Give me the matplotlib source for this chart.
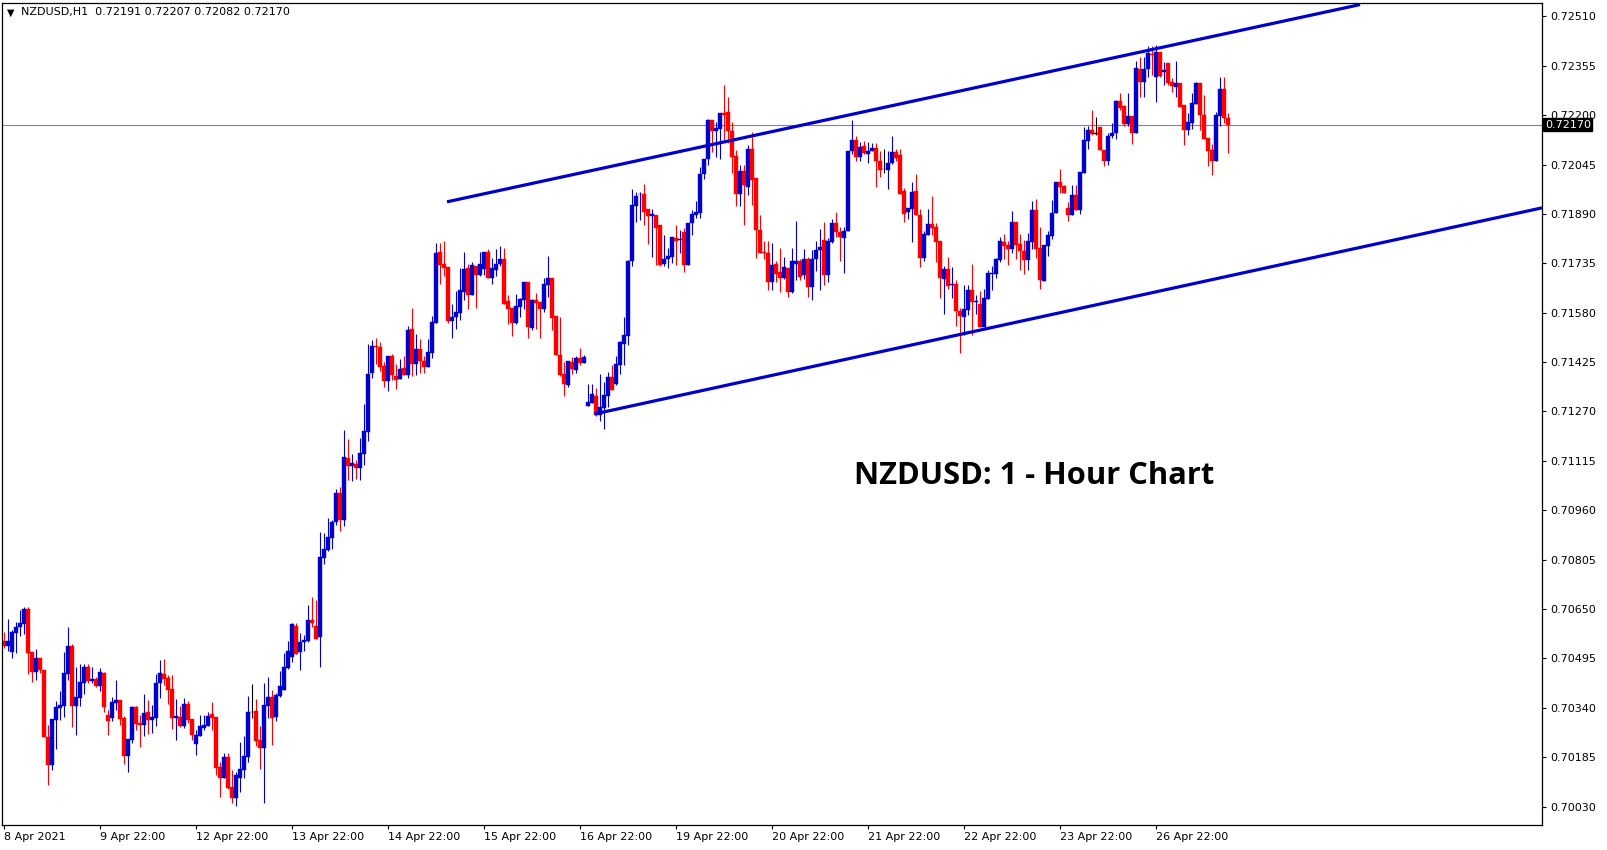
import numpy as np
import matplotlib.pyplot as plt

# NZDUSD H1 candles (open, high, low, close)
opens = [
    0.70550, 0.70535, 0.70516, 0.70576, 0.70592, 0.70604, 0.70650, 0.70515, 0.70451, 0.70497,
    0.70459, 0.70249, 0.70159, 0.70300, 0.70338, 0.70347, 0.70447, 0.70534, 0.70347, 0.70372,
    0.70419, 0.70468, 0.70424, 0.70431, 0.70407, 0.70450, 0.70318, 0.70309, 0.70356, 0.70365,
    0.70309, 0.70190, 0.70240, 0.70343, 0.70293, 0.70286, 0.70327, 0.70303, 0.70309, 0.70418,
    0.70446, 0.70434, 0.70399, 0.70309, 0.70311, 0.70284, 0.70352, 0.70305, 0.70225, 0.70250,
    0.70278, 0.70284, 0.70321, 0.70312, 0.70154, 0.70121, 0.70186, 0.70092, 0.70058, 0.70121,
    0.70146, 0.70187, 0.70326, 0.70330, 0.70239, 0.70215, 0.70347, 0.70374, 0.70312, 0.70378,
    0.70397, 0.70466, 0.70498, 0.70597, 0.70514, 0.70545, 0.70551, 0.70614, 0.70598, 0.70563,
    0.70811, 0.70835, 0.70874, 0.70924, 0.71015, 0.70929, 0.71125, 0.71100, 0.71106, 0.71094,
    0.71138, 0.71207, 0.71392, 0.71476, 0.71473, 0.71414, 0.71367, 0.71445, 0.71382, 0.71373,
    0.71407, 0.71385, 0.71530, 0.71420, 0.71466, 0.71429, 0.71411, 0.71455, 0.71549, 0.71771,
    0.71734, 0.71724, 0.71555, 0.71568, 0.71580, 0.71646, 0.71721, 0.71636, 0.71728, 0.71698,
    0.71718, 0.71772, 0.71690, 0.71715, 0.71734, 0.71747, 0.71618, 0.71596, 0.71549, 0.71599,
    0.71621, 0.71677, 0.71531, 0.71621, 0.71614, 0.71590, 0.71668, 0.71688, 0.71571, 0.71448,
    0.71388, 0.71354, 0.71425, 0.71401, 0.71439, 0.71422, 0.71288, 0.71295, 0.71319, 0.71258,
    0.71281, 0.71320, 0.71379, 0.71356, 0.71417, 0.71481, 0.71508, 0.71741, 0.71916, 0.71951,
    0.71953, 0.71904, 0.71882, 0.71887, 0.71854, 0.71734, 0.71747, 0.71756, 0.71815, 0.71809,
    0.71834, 0.71731, 0.71860, 0.71888, 0.71894, 0.72015, 0.72061, 0.72186, 0.72149, 0.72155,
    0.72207, 0.72210, 0.72149, 0.72073, 0.71954, 0.72025, 0.71973, 0.72095, 0.72004, 0.71841,
    0.71771, 0.71768, 0.71675, 0.71733, 0.71708, 0.71690, 0.71721, 0.71644, 0.71734, 0.71743,
    0.71697, 0.71749, 0.71662, 0.71747, 0.71776, 0.71807, 0.71697, 0.71802, 0.71862, 0.71833,
    0.71813, 0.71837, 0.72086, 0.72123, 0.72069, 0.72104, 0.72079, 0.72089, 0.72098, 0.72057,
    0.72030, 0.72029, 0.72050, 0.72085, 0.72076, 0.71962, 0.71897, 0.71907, 0.71962, 0.71888,
    0.71753, 0.71825, 0.71857, 0.71849, 0.71806, 0.71687, 0.71718, 0.71666, 0.71670, 0.71586,
    0.71567, 0.71587, 0.71652, 0.71612, 0.71608, 0.71536, 0.71623, 0.71702, 0.71702, 0.71744,
    0.71803, 0.71794, 0.71781, 0.71865, 0.71797, 0.71775, 0.71744, 0.71803, 0.71903, 0.71784,
    0.71681, 0.71790, 0.71822, 0.71892, 0.71990, 0.71978, 0.71909, 0.71887, 0.71950, 0.71903,
    0.72018, 0.72120, 0.72153, 0.72142, 0.72162, 0.72090, 0.72056, 0.72134, 0.72144, 0.72245,
    0.72229, 0.72173, 0.72197, 0.72144, 0.72345, 0.72305, 0.72345, 0.72392, 0.72321, 0.72398,
    0.72336, 0.72364, 0.72304, 0.72289, 0.72301, 0.72231, 0.72154, 0.72175, 0.72235, 0.72302,
    0.72199, 0.72129, 0.72090, 0.72056, 0.72198, 0.72282, 0.72191,
]
highs = [
    0.70578, 0.70619, 0.70583, 0.70610, 0.70647, 0.70657, 0.70657, 0.70515, 0.70525, 0.70497,
    0.70459, 0.70286, 0.70305, 0.70360, 0.70393, 0.70516, 0.70595, 0.70541, 0.70468, 0.70476,
    0.70476, 0.70478, 0.70468, 0.70436, 0.70465, 0.70453, 0.70333, 0.70375, 0.70428, 0.70365,
    0.70313, 0.70242, 0.70347, 0.70347, 0.70316, 0.70384, 0.70365, 0.70349, 0.70447, 0.70490,
    0.70493, 0.70443, 0.70443, 0.70369, 0.70347, 0.70372, 0.70362, 0.70305, 0.70269, 0.70318,
    0.70318, 0.70328, 0.70359, 0.70312, 0.70169, 0.70198, 0.70198, 0.70145, 0.70137, 0.70234,
    0.70250, 0.70378, 0.70416, 0.70368, 0.70284, 0.70418, 0.70437, 0.70396, 0.70387, 0.70456,
    0.70513, 0.70548, 0.70605, 0.70605, 0.70576, 0.70567, 0.70664, 0.70689, 0.70679, 0.70893,
    0.70887, 0.70936, 0.70930, 0.71028, 0.71034, 0.71213, 0.71182, 0.71138, 0.71119, 0.71188,
    0.71294, 0.71483, 0.71495, 0.71502, 0.71489, 0.71426, 0.71445, 0.71451, 0.71420, 0.71436,
    0.71445, 0.71539, 0.71594, 0.71513, 0.71497, 0.71445, 0.71497, 0.71569, 0.71800, 0.71800,
    0.71806, 0.71724, 0.71608, 0.71647, 0.71721, 0.71771, 0.71734, 0.71740, 0.71728, 0.71772,
    0.71772, 0.71781, 0.71753, 0.71781, 0.71790, 0.71784, 0.71634, 0.71596, 0.71640, 0.71627,
    0.71677, 0.71677, 0.71624, 0.71643, 0.71614, 0.71690, 0.71759, 0.71688, 0.71571, 0.71565,
    0.71425, 0.71429, 0.71441, 0.71445, 0.71469, 0.71447, 0.71357, 0.71357, 0.71344, 0.71388,
    0.71364, 0.71395, 0.71416, 0.71445, 0.71491, 0.71567, 0.71746, 0.71969, 0.71959, 0.71959,
    0.71984, 0.71904, 0.71904, 0.71887, 0.71854, 0.71825, 0.71783, 0.71818, 0.71856, 0.71840,
    0.71846, 0.71863, 0.71903, 0.71931, 0.72038, 0.72063, 0.72189, 0.72186, 0.72177, 0.72207,
    0.72296, 0.72258, 0.72179, 0.72092, 0.72044, 0.72044, 0.72105, 0.72146, 0.72004, 0.71888,
    0.71804, 0.71804, 0.71798, 0.71742, 0.71783, 0.71755, 0.71721, 0.71783, 0.71869, 0.71749,
    0.71780, 0.71755, 0.71777, 0.71805, 0.71842, 0.71866, 0.71814, 0.71874, 0.71896, 0.71849,
    0.71849, 0.72088, 0.72185, 0.72136, 0.72117, 0.72120, 0.72117, 0.72114, 0.72114, 0.72086,
    0.72095, 0.72089, 0.72136, 0.72093, 0.72095, 0.71972, 0.71909, 0.71990, 0.72015, 0.71907,
    0.71835, 0.71907, 0.71947, 0.71860, 0.71806, 0.71728, 0.71756, 0.71722, 0.71683, 0.71596,
    0.71667, 0.71667, 0.71734, 0.71634, 0.71649, 0.71655, 0.71715, 0.71728, 0.71753, 0.71819,
    0.71828, 0.71806, 0.71899, 0.71865, 0.71828, 0.71809, 0.71831, 0.71932, 0.71937, 0.71850,
    0.71794, 0.71835, 0.71934, 0.71990, 0.72030, 0.71980, 0.71927, 0.71981, 0.71981, 0.72022,
    0.72164, 0.72167, 0.72216, 0.72193, 0.72162, 0.72090, 0.72145, 0.72175, 0.72249, 0.72270,
    0.72231, 0.72269, 0.72197, 0.72370, 0.72384, 0.72383, 0.72417, 0.72417, 0.72421, 0.72398,
    0.72366, 0.72364, 0.72318, 0.72370, 0.72301, 0.72231, 0.72208, 0.72269, 0.72305, 0.72302,
    0.72263, 0.72129, 0.72108, 0.72211, 0.72321, 0.72321, 0.72207,
]
lows = [
    0.70526, 0.70519, 0.70495, 0.70513, 0.70564, 0.70570, 0.70447, 0.70422, 0.70428, 0.70448,
    0.70247, 0.70096, 0.70145, 0.70209, 0.70303, 0.70310, 0.70428, 0.70281, 0.70256, 0.70344,
    0.70382, 0.70419, 0.70419, 0.70404, 0.70394, 0.70326, 0.70256, 0.70297, 0.70334, 0.70287,
    0.70165, 0.70137, 0.70228, 0.70270, 0.70218, 0.70250, 0.70259, 0.70262, 0.70283, 0.70372,
    0.70410, 0.70353, 0.70272, 0.70240, 0.70281, 0.70278, 0.70291, 0.70240, 0.70193, 0.70250,
    0.70271, 0.70284, 0.70269, 0.70129, 0.70061, 0.70121, 0.70084, 0.70040, 0.70033, 0.70077,
    0.70118, 0.70169, 0.70309, 0.70221, 0.70149, 0.70040, 0.70307, 0.70224, 0.70297, 0.70374,
    0.70396, 0.70463, 0.70485, 0.70510, 0.70457, 0.70519, 0.70545, 0.70592, 0.70557, 0.70469,
    0.70792, 0.70832, 0.70838, 0.70915, 0.70896, 0.70912, 0.71056, 0.71053, 0.71059, 0.71056,
    0.71103, 0.71178, 0.71376, 0.71420, 0.71398, 0.71348, 0.71335, 0.71370, 0.71342, 0.71373,
    0.71385, 0.71376, 0.71382, 0.71383, 0.71392, 0.71391, 0.71408, 0.71439, 0.71549, 0.71671,
    0.71696, 0.71549, 0.71499, 0.71530, 0.71558, 0.71620, 0.71590, 0.71636, 0.71595, 0.71696,
    0.71699, 0.71690, 0.71671, 0.71696, 0.71728, 0.71607, 0.71543, 0.71508, 0.71546, 0.71568,
    0.71593, 0.71502, 0.71527, 0.71530, 0.71502, 0.71583, 0.71630, 0.71527, 0.71448, 0.71382,
    0.71317, 0.71348, 0.71386, 0.71392, 0.71416, 0.71422, 0.71288, 0.71295, 0.71256, 0.71241,
    0.71216, 0.71285, 0.71338, 0.71354, 0.71389, 0.71416, 0.71479, 0.71728, 0.71866, 0.71872,
    0.71854, 0.71797, 0.71756, 0.71729, 0.71728, 0.71728, 0.71720, 0.71737, 0.71731, 0.71768,
    0.71707, 0.71731, 0.71825, 0.71876, 0.71876, 0.72000, 0.72045, 0.72083, 0.72070, 0.72061,
    0.72122, 0.72113, 0.72017, 0.71916, 0.71916, 0.71854, 0.71948, 0.71918, 0.71751, 0.71767,
    0.71749, 0.71650, 0.71650, 0.71675, 0.71644, 0.71687, 0.71628, 0.71641, 0.71683, 0.71683,
    0.71685, 0.71629, 0.71621, 0.71712, 0.71652, 0.71667, 0.71676, 0.71800, 0.71818, 0.71743,
    0.71706, 0.71835, 0.72077, 0.72057, 0.72057, 0.72077, 0.72051, 0.72086, 0.71973, 0.72005,
    0.72017, 0.71968, 0.72048, 0.72057, 0.71951, 0.71866, 0.71875, 0.71803, 0.71888, 0.71722,
    0.71743, 0.71825, 0.71825, 0.71740, 0.71626, 0.71575, 0.71653, 0.71627, 0.71539, 0.71455,
    0.71510, 0.71573, 0.71510, 0.71575, 0.71534, 0.71536, 0.71623, 0.71652, 0.71690, 0.71740,
    0.71749, 0.71731, 0.71766, 0.71747, 0.71715, 0.71700, 0.71715, 0.71780, 0.71753, 0.71653,
    0.71681, 0.71759, 0.71810, 0.71892, 0.71957, 0.71955, 0.71869, 0.71887, 0.71903, 0.71890,
    0.72018, 0.72094, 0.72137, 0.72137, 0.72090, 0.72040, 0.72045, 0.72127, 0.72125, 0.72216,
    0.72167, 0.72167, 0.72109, 0.72144, 0.72258, 0.72258, 0.72320, 0.72327, 0.72242, 0.72321,
    0.72294, 0.72295, 0.72272, 0.72258, 0.72225, 0.72106, 0.72137, 0.72157, 0.72235, 0.72153,
    0.72126, 0.72039, 0.72013, 0.72056, 0.72167, 0.72174, 0.72082,
]
closes = [
    0.70534, 0.70550, 0.70578, 0.70594, 0.70606, 0.70650, 0.70513, 0.70451, 0.70497, 0.70457,
    0.70247, 0.70159, 0.70305, 0.70343, 0.70349, 0.70450, 0.70534, 0.70347, 0.70374, 0.70421,
    0.70468, 0.70425, 0.70431, 0.70407, 0.70453, 0.70343, 0.70297, 0.70359, 0.70365, 0.70306,
    0.70190, 0.70242, 0.70343, 0.70290, 0.70286, 0.70324, 0.70302, 0.70311, 0.70418, 0.70450,
    0.70431, 0.70397, 0.70309, 0.70313, 0.70284, 0.70352, 0.70303, 0.70253, 0.70253, 0.70283,
    0.70287, 0.70315, 0.70309, 0.70152, 0.70121, 0.70186, 0.70087, 0.70058, 0.70129, 0.70148,
    0.70190, 0.70328, 0.70326, 0.70237, 0.70215, 0.70349, 0.70374, 0.70309, 0.70380, 0.70409,
    0.70468, 0.70518, 0.70602, 0.70510, 0.70547, 0.70554, 0.70614, 0.70605, 0.70557, 0.70813,
    0.70838, 0.70876, 0.70924, 0.71015, 0.70929, 0.71128, 0.71100, 0.71109, 0.71094, 0.71141,
    0.71209, 0.71389, 0.71476, 0.71471, 0.71411, 0.71367, 0.71445, 0.71385, 0.71370, 0.71404,
    0.71385, 0.71527, 0.71420, 0.71466, 0.71428, 0.71408, 0.71457, 0.71551, 0.71767, 0.71731,
    0.71721, 0.71555, 0.71567, 0.71582, 0.71651, 0.71718, 0.71636, 0.71731, 0.71699, 0.71734,
    0.71772, 0.71690, 0.71721, 0.71734, 0.71747, 0.71607, 0.71593, 0.71549, 0.71602, 0.71624,
    0.71677, 0.71536, 0.71621, 0.71610, 0.71590, 0.71671, 0.71690, 0.71563, 0.71448, 0.71385,
    0.71357, 0.71429, 0.71404, 0.71439, 0.71422, 0.71441, 0.71300, 0.71325, 0.71258, 0.71284,
    0.71323, 0.71379, 0.71338, 0.71419, 0.71487, 0.71510, 0.71743, 0.71918, 0.71947, 0.71954,
    0.71897, 0.71882, 0.71890, 0.71847, 0.71731, 0.71749, 0.71758, 0.71818, 0.71806, 0.71812,
    0.71731, 0.71863, 0.71890, 0.71896, 0.72016, 0.72063, 0.72186, 0.72149, 0.72161, 0.72207,
    0.72202, 0.72149, 0.72070, 0.71951, 0.72025, 0.71981, 0.72095, 0.71998, 0.71841, 0.71767,
    0.71766, 0.71675, 0.71730, 0.71700, 0.71690, 0.71724, 0.71644, 0.71741, 0.71743, 0.71693,
    0.71749, 0.71662, 0.71749, 0.71776, 0.71785, 0.71697, 0.71805, 0.71862, 0.71833, 0.71816,
    0.71835, 0.72088, 0.72123, 0.72069, 0.72100, 0.72082, 0.72088, 0.72098, 0.72057, 0.72029,
    0.72030, 0.72050, 0.72085, 0.72067, 0.71954, 0.71890, 0.71909, 0.71959, 0.71888, 0.71753,
    0.71828, 0.71857, 0.71847, 0.71803, 0.71690, 0.71718, 0.71664, 0.71669, 0.71586, 0.71571,
    0.71592, 0.71652, 0.71615, 0.71617, 0.71534, 0.71626, 0.71705, 0.71705, 0.71747, 0.71806,
    0.71790, 0.71781, 0.71865, 0.71794, 0.71775, 0.71744, 0.71806, 0.71903, 0.71781, 0.71684,
    0.71792, 0.71824, 0.71892, 0.71990, 0.71973, 0.71957, 0.71887, 0.71950, 0.71903, 0.72022,
    0.72122, 0.72153, 0.72141, 0.72142, 0.72090, 0.72056, 0.72134, 0.72144, 0.72245, 0.72222,
    0.72173, 0.72196, 0.72144, 0.72348, 0.72305, 0.72345, 0.72395, 0.72389, 0.72398, 0.72323,
    0.72341, 0.72300, 0.72290, 0.72301, 0.72227, 0.72154, 0.72177, 0.72238, 0.72302, 0.72199,
    0.72126, 0.72086, 0.72056, 0.72200, 0.72281, 0.72190, 0.72170,
]

# x-axis labels every 24 bars
date_labels = ["8 Apr 2021", "9 Apr 22:00", "12 Apr 22:00", "13 Apr 22:00", "14 Apr 22:00",
               "15 Apr 22:00", "16 Apr 22:00", "19 Apr 22:00", "20 Apr 22:00", "21 Apr 22:00",
               "22 Apr 22:00", "23 Apr 22:00", "26 Apr 22:00"]
price_ticks = [0.72510, 0.72355, 0.72200, 0.72045, 0.71890, 0.71735, 0.71580, 0.71425,
               0.71270, 0.71115, 0.70960, 0.70805, 0.70650, 0.70495, 0.70340, 0.70185, 0.70030]

# channel lines drawn on the chart: (bar, price) end points
upper_line = ([110.75, 339.0], [0.71928, 0.72547])
lower_line = ([147.6, 384.5], [0.71262, 0.71909])
last_price = 0.72170

UP = "#0000CC"
DOWN = "#FF0000"

o = np.array(opens)
h = np.array(highs)
l = np.array(lows)
c = np.array(closes)
x = np.arange(len(o))

colors = np.where(c > o, UP, np.where(c < o, DOWN, "black"))

fig = plt.figure(figsize=(16.07, 8.5), dpi=100)
ax = fig.add_axes([2 / 1607, 25 / 850, 1540 / 1607, 822 / 850])

ax.vlines(x, l, h, colors=colors, linewidth=0.8)
body_bottom = np.minimum(o, c)
body_height = np.maximum(np.abs(c - o), 0.00002)
ax.bar(x, body_height, bottom=body_bottom, width=0.78, color=colors,
       edgecolor=colors, linewidth=0.3)

ax.axhline(last_price, color="#778899", linewidth=0.8, zorder=0)

ax.plot(*upper_line, color=UP, linewidth=2.3, solid_capstyle="butt")
ax.plot(*lower_line, color=UP, linewidth=2.3, solid_capstyle="butt")

ax.set_xlim(-0.5, 384.5)
ax.set_ylim(0.69972, 0.72552)

ax.yaxis.tick_right()
ax.set_yticks(price_ticks)
ax.set_yticklabels([f"{p:.5f}" for p in price_ticks])
ax.tick_params(axis="y", direction="out", length=3, width=0.8, pad=3, labelsize=8)

ax.set_xticks(np.arange(len(date_labels)) * 24)
ax.set_xticklabels(date_labels, ha="left")
ax.tick_params(axis="x", direction="out", length=3, width=0.8, pad=2, labelsize=8)

for s in ax.spines.values():
    s.set_color("black")
    s.set_linewidth(0.9)

# current price tag on the right axis
ax.text(1.0018, (last_price - 0.69972) / (0.72552 - 0.69972), f"{last_price:.5f}",
        transform=ax.transAxes, ha="left", va="center", fontsize=8, color="white",
        bbox=dict(boxstyle="square,pad=0.15", facecolor="black", edgecolor="black"))

# header line
ax.text(0.0035, 0.9885, "\u25bc", transform=ax.transAxes, ha="left", va="center",
        fontsize=7, color="black")
ax.text(0.0125, 0.9885, "NZDUSD,H1  0.72191 0.72207 0.72082 0.72170",
        transform=ax.transAxes, ha="left", va="center", fontsize=8, color="black")

ax.text(0.5535, 0.424, "NZDUSD: 1 - Hour Chart", transform=ax.transAxes,
        ha="left", va="center", fontsize=22.2, fontweight="bold",
        family="Open Sans", color="black")

fig.savefig("out.png", dpi=100)
